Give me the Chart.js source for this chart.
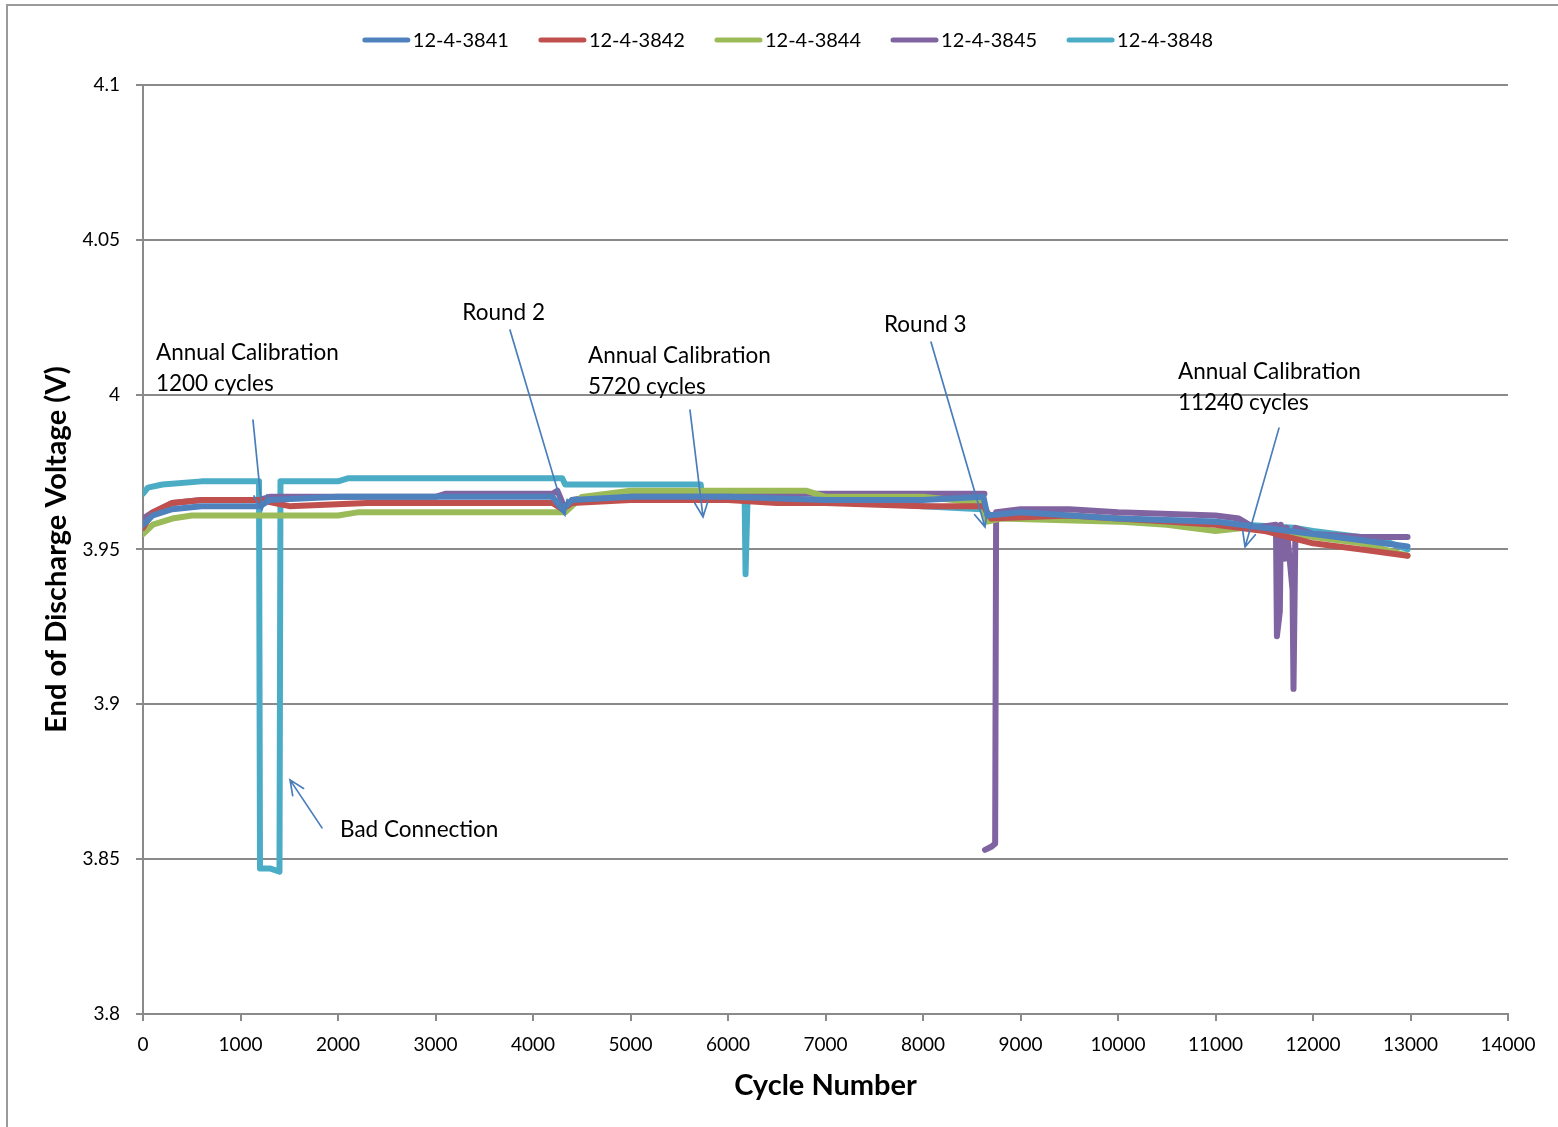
<!DOCTYPE html>
<html>
<head>
<meta charset="utf-8">
<script src="https://cdn.jsdelivr.net/npm/chart.js@4.4.0/dist/chart.umd.min.js"></script>
<style>
  html, body { margin: 0; padding: 0; background: #fff; }
  #wrap { position: relative; width: 1558px; height: 1127px; }
</style>
</head>
<body>
<div id="wrap"><canvas id="cv" width="1558" height="1127"></canvas></div>
<script>
// series names + colours (Excel 2007 palette)
var names = ['12-4-3841', '12-4-3842', '12-4-3844', '12-4-3845', '12-4-3848'];
var colors = ['#4F81BD', '#C0504D', '#9BBB59', '#8064A2', '#4BACC6'];

// cycle numbers and end of discharge voltage
// (null = gap in the record)
var cyc3841 = [0, 100, 300, 600, 1200, 1300, 2000, 4200, 4300, 4400, 5000, 6000, 7000, 8000, 8620, 8660, 9000, 10000, 11000, 11500, 12000, 12500, 12970];
var v3841 = [3.958, 3.961, 3.963, 3.964, 3.964, 3.966, 3.967, 3.967, 3.963, 3.966, 3.967, 3.967, 3.966, 3.966, 3.967, 3.961, 3.962, 3.960, 3.959, 3.957, 3.955, 3.953, 3.951];

var cyc3842 = [0, 100, 300, 600, 1200, 1500, 2300, 4200, 4300, 4400, 5000, 6000, 6500, 7000, 8000, 8620, 8700, 9500, 10000, 10500, 11000, 11500, 12000, 12500, 12970];
var v3842 = [3.957, 3.962, 3.965, 3.966, 3.966, 3.964, 3.965, 3.965, 3.963, 3.965, 3.966, 3.966, 3.965, 3.965, 3.964, 3.964, 3.960, 3.961, 3.960, 3.959, 3.958, 3.956, 3.952, 3.950, 3.948];

var cyc3844 = [0, 100, 300, 500, 2000, 2200, 4200, 4330, 4500, 5000, 6800, 7000, 8000, 8600, 8660, 8800, 10000, 10500, 11000, 11300, 11800, 12000, 12500, 12970];
var v3844 = [3.955, 3.958, 3.960, 3.961, 3.961, 3.962, 3.962, 3.962, 3.967, 3.969, 3.969, 3.967, 3.967, 3.965, 3.959, 3.960, 3.959, 3.958, 3.956, 3.957, 3.955, 3.954, 3.952, 3.948];

var cyc3845 = [0, 100, 300, 600, 1200, 1300, 3000, 3100, 4200, 4250, 4330, 4400, 4600, 6000, 7000, 8630, 8633, 8636, 8700, 8740, 8750, 9000, 9500, 10000, 11000, 11240, 11400, 11620, 11630, 11660, 11670, 11710, 11730, 11790, 11800, 11820, 12000, 12500, 12970];
var v3845 = [3.960, 3.962, 3.965, 3.966, 3.966, 3.967, 3.967, 3.968, 3.968, 3.969, 3.963, 3.966, 3.967, 3.968, 3.968, 3.968, null, 3.853, 3.854, 3.855, 3.962, 3.963, 3.963, 3.962, 3.961, 3.960, 3.957, 3.958, 3.922, 3.930, 3.958, 3.947, 3.957, 3.937, 3.905, 3.957, 3.955, 3.954, 3.954];

var cyc3848 = [0, 50, 200, 600, 1190, 1200, 1300, 1400, 1410, 2000, 2100, 4300, 4330, 5720, 5730, 6170, 6180, 6200, 7000, 7500, 8000, 8600, 8650, 9000, 10000, 11000, 11300, 11800, 12000, 12500, 12800, 12970];
var v3848 = [3.968, 3.970, 3.971, 3.972, 3.972, 3.847, 3.847, 3.846, 3.972, 3.972, 3.973, 3.973, 3.971, 3.971, 3.968, 3.968, 3.942, 3.966, 3.966, 3.965, 3.964, 3.963, 3.961, 3.961, 3.960, 3.959, 3.958, 3.957, 3.956, 3.954, 3.952, 3.950];

var xTicks = ['0', '1000', '2000', '3000', '4000', '5000', '6000', '7000', '8000', '9000', '10000', '11000', '12000', '13000', '14000'];
var yTicks = ['3.8', '3.85', '3.9', '3.95', '4', '4.05', '4.1'];

// callouts, in data units (cycle, volts)
var notes = [
    { lines: ['Annual Calibration', '1200 cycles'], x: 133, y: 4.0135 },
    { lines: ['Round 2'], x: 3275, y: 4.0264 },
    { lines: ['Annual Calibration', '5720 cycles'], x: 4564, y: 4.0125 },
    { lines: ['Round 3'], x: 7600, y: 4.0225 },
    { lines: ['Annual Calibration', '11240 cycles'], x: 10615, y: 4.0073 },
    { lines: ['Bad Connection'], x: 2021, y: 3.8594 }
];
var arrows = [
    [1128, 3.9918, 1220, 3.9628],
    [3764, 4.0209, 4328, 3.9611],
    [5610, 3.9950, 5744, 3.9605],
    [8082, 4.0170, 8636, 3.9573],
    [11651, 3.9892, 11303, 3.9508],
    [1836, 3.8601, 1508, 3.8756]
];

function pairs(xs, ys) {
    var out = [];
    for (var i = 0; i < xs.length; i++) out.push({ x: xs[i], y: ys[i] });
    return out;
}

var allX = [cyc3841, cyc3842, cyc3844, cyc3845, cyc3848];
var allY = [v3841, v3842, v3844, v3845, v3848];
var datasets = [];
for (var i = 0; i < names.length; i++) {
    datasets.push({
        label: names[i],
        data: pairs(allX[i], allY[i]),
        borderColor: colors[i],
        backgroundColor: colors[i],
        borderWidth: 6,
        borderCapStyle: 'round',
        borderJoinStyle: 'round',
        pointRadius: 0,
        spanGaps: false,
        tension: 0
    });
}

var FONT = 'Lato, "Open Sans", sans-serif';

// white page + the thin frame round the chart
var framePlugin = {
    id: 'frame',
    beforeDraw: function (chart) {
        var ctx = chart.ctx;
        ctx.save();
        ctx.fillStyle = '#fff';
        ctx.fillRect(0, 0, chart.width, chart.height);
        ctx.strokeStyle = '#9a9a9a';
        ctx.lineWidth = 2;
        ctx.beginPath();
        ctx.moveTo(7, chart.height);
        ctx.lineTo(7, 5);
        ctx.lineTo(chart.width, 5);
        ctx.stroke();
        ctx.restore();
    }
};

// legend drawn as line swatches like Excel
var legendPlugin = {
    id: 'xlLegend',
    afterDraw: function (chart) {
        var ctx = chart.ctx;
        ctx.save();
        ctx.font = '20px ' + FONT;
        var sw = 47, gapText = 3, gapItem = 30;
        var total = 0;
        var ds = chart.data.datasets;
        for (var i = 0; i < ds.length; i++) {
            total += sw + gapText + ctx.measureText(ds[i].label).width;
            if (i < ds.length - 1) total += gapItem;
        }
        var x = 788 - total / 2, y = 40;
        ctx.textBaseline = 'middle';
        ctx.textAlign = 'left';
        for (var i = 0; i < ds.length; i++) {
            ctx.strokeStyle = ds[i].borderColor;
            ctx.lineWidth = 5;
            ctx.lineCap = 'round';
            ctx.beginPath();
            ctx.moveTo(x + 2, y);
            ctx.lineTo(x + sw - 2, y);
            ctx.stroke();
            x += sw + gapText;
            ctx.fillStyle = '#000';
            ctx.fillText(ds[i].label, x, y + 1);
            x += ctx.measureText(ds[i].label).width + gapItem;
        }
        ctx.restore();
    }
};

// text callouts and their arrows
var notePlugin = {
    id: 'notes',
    afterDatasetsDraw: function (chart) {
        var ctx = chart.ctx, xs = chart.scales.x, ys = chart.scales.y;
        ctx.save();
        ctx.font = '22.5px ' + FONT;
        ctx.fillStyle = '#000';
        ctx.textBaseline = 'middle';
        ctx.textAlign = 'left';
        notes.forEach(function (n) {
            var px = xs.getPixelForValue(n.x), py = ys.getPixelForValue(n.y);
            n.lines.forEach(function (t, k) { ctx.fillText(t, px, py + k * 31); });
        });
        ctx.strokeStyle = '#4A7EBB';
        ctx.lineWidth = 1.7;
        ctx.lineCap = 'round';
        arrows.forEach(function (a) {
            var x1 = xs.getPixelForValue(a[0]), y1 = ys.getPixelForValue(a[1]);
            var x2 = xs.getPixelForValue(a[2]), y2 = ys.getPixelForValue(a[3]);
            var ang = Math.atan2(y2 - y1, x2 - x1), hl = 16, spread = 0.42;
            ctx.beginPath();
            ctx.moveTo(x1, y1);
            ctx.lineTo(x2, y2);
            ctx.moveTo(x2 - hl * Math.cos(ang - spread), y2 - hl * Math.sin(ang - spread));
            ctx.lineTo(x2, y2);
            ctx.lineTo(x2 - hl * Math.cos(ang + spread), y2 - hl * Math.sin(ang + spread));
            ctx.stroke();
        });
        ctx.restore();
    }
};

var ctx = document.getElementById('cv').getContext('2d');
var chart = new Chart(ctx, {
    type: 'line',
    data: { datasets: datasets },
    options: {
        responsive: false,
        animation: false,
        devicePixelRatio: 1,
        layout: { padding: { top: 85, right: 50, left: 0, bottom: 0 } },
        plugins: {
            legend: { display: false },
            tooltip: { enabled: false }
        },
        scales: {
            x: {
                type: 'linear',
                min: 0,
                max: 14000,
                afterFit: function (s) { s.height = 113; },
                afterBuildTicks: function (s) {
                    s.ticks = xTicks.map(function (t) { return { value: +t }; });
                },
                ticks: {
                    autoSkip: false,
                    maxRotation: 0,
                    padding: 12,
                    color: '#000',
                    font: { family: FONT, size: 19 },
                    callback: function (v, i) { return xTicks[i]; }
                },
                grid: { drawOnChartArea: false, drawTicks: true, tickLength: 7, color: '#8a8a8a', lineWidth: 2 },
                border: { color: '#8a8a8a', width: 2 },
                title: {
                    display: true,
                    text: 'Cycle Number',
                    color: '#000',
                    font: { family: FONT, size: 29, weight: 'bold' },
                    padding: { top: 4, bottom: 24 }
                }
            },
            y: {
                min: 3.8,
                max: 4.1,
                afterFit: function (s) { s.width = 143; },
                afterBuildTicks: function (s) {
                    s.ticks = yTicks.map(function (t) { return { value: +t }; });
                },
                ticks: {
                    padding: 16,
                    color: '#000',
                    font: { family: FONT, size: 19 },
                    callback: function (v, i) { return yTicks[i]; }
                },
                grid: { color: '#8a8a8a', lineWidth: 2, tickLength: 7 },
                border: { color: '#8a8a8a', width: 2 },
                title: {
                    display: true,
                    text: 'End of Discharge Voltage (V)',
                    color: '#000',
                    font: { family: FONT, size: 29, weight: 'bold' },
                    padding: { top: 39, bottom: 0 }
                }
            }
        }
    },
    plugins: [framePlugin, notePlugin, legendPlugin]
});
</script>
</body>
</html>
